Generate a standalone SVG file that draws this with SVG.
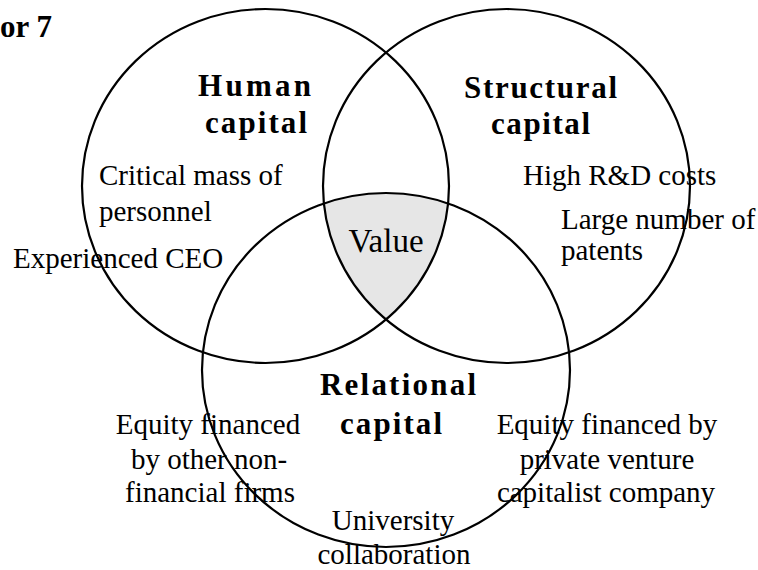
<svg xmlns="http://www.w3.org/2000/svg" width="758" height="570" viewBox="0 0 758 570">
<style>
.c{fill:none;stroke:#000;stroke-width:2.2}
.t{font-family:"Liberation Serif","Times New Roman",serif;font-size:29px;fill:#000}
.b{font-family:"Liberation Serif","Times New Roman",serif;font-size:31px;font-weight:bold;fill:#000}
.m{text-anchor:middle}
</style>
<defs>
<clipPath id="clipL"><ellipse cx="265.5" cy="186" rx="183.5" ry="177"/></clipPath>
<clipPath id="clipR"><ellipse cx="506.5" cy="186" rx="183.5" ry="177"/></clipPath>
</defs>
<rect width="758" height="570" fill="#fff"/>
<text class="b" x="0" y="37" textLength="52" lengthAdjust="spacing">or 7</text>
<g id="value">
<g clip-path="url(#clipL)"><g clip-path="url(#clipR)"><ellipse cx="386" cy="370" rx="184" ry="177" fill="#e6e6e6"/></g></g>
<text class="t m" x="386" y="252" style="font-size:33px">Value</text>
</g>
<g id="human">
<ellipse class="c" cx="265.5" cy="186" rx="183.5" ry="177"/>
<text class="b" x="198" y="96" textLength="113" lengthAdjust="spacing">Human</text>
<text class="b" x="205" y="133" textLength="102" lengthAdjust="spacing">capital</text>
<text class="t" x="99" y="185">Critical mass of</text>
<text class="t" x="99" y="221">personnel</text>
<text class="t" x="13" y="268">Experienced CEO</text>
</g>
<g id="structural">
<ellipse class="c" cx="506.5" cy="186" rx="183.5" ry="177"/>
<text class="b" x="464" y="98" textLength="153" lengthAdjust="spacing">Structural</text>
<text class="b" x="491" y="134" textLength="99" lengthAdjust="spacing">capital</text>
<text class="t" x="523" y="185">High R&amp;D costs</text>
<text class="t" x="561" y="229">Large number of</text>
<text class="t" x="561" y="260">patents</text>
</g>
<g id="relational">
<ellipse class="c" cx="386" cy="370" rx="184" ry="177"/>
<text class="b" x="320" y="395" textLength="156" lengthAdjust="spacing">Relational</text>
<text class="b" x="340" y="434" textLength="102" lengthAdjust="spacing">capital</text>
<text class="t m" x="208" y="434">Equity financed</text>
<text class="t m" x="209" y="469">by other non-</text>
<text class="t m" x="210" y="502">financial firms</text>
<text class="t m" x="607" y="434">Equity financed by</text>
<text class="t m" x="607" y="469">private venture</text>
<text class="t m" x="606" y="502">capitalist company</text>
<text class="t m" x="393" y="530">University</text>
<text class="t m" x="394" y="564">collaboration</text>
</g>
</svg>
